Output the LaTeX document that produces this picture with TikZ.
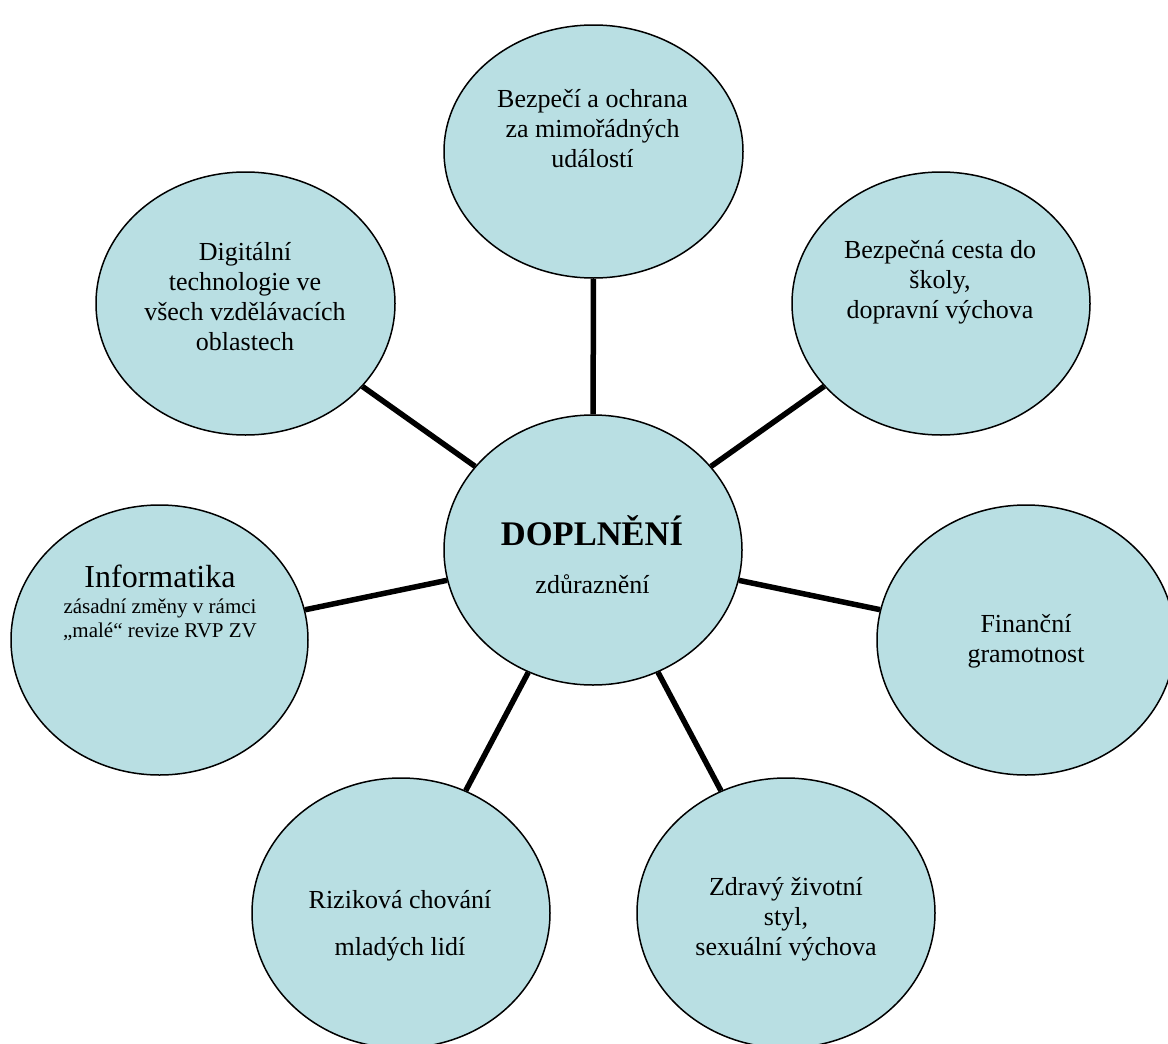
\documentclass[tikz,border=0pt]{standalone}
\usepackage{fontspec}
\setmainfont{Liberation Serif}
\usetikzlibrary{shapes.geometric}
\definecolor{bubblefill}{RGB}{185,223,227}
\newcommand{\mylines}[1]{\begin{tabular}[t]{@{}c@{}}#1\end{tabular}}
\begin{document}
\begin{tikzpicture}[x=1pt,y=-1pt,
  bubble/.style={ellipse, draw=black, line width=1.5pt, fill=bubblefill, inner sep=0pt},
  link/.style={line width=5.5pt, draw=black},
  txt/.style={anchor=base, inner sep=0pt, font=\fontsize{26}{30}\selectfont},
]
\clip (0,0) rectangle (1168,1044);
\fill[white] (0,0) rectangle (1168,1044);

% bubbles
\node[bubble, minimum width=298pt, minimum height=270pt] (c)  at (593,550) {};
\node[bubble, minimum width=299pt, minimum height=253pt] (t)  at (593.5,151.5) {};
\node[bubble, minimum width=299pt, minimum height=263pt] (tl) at (245.5,303.5) {};
\node[bubble, minimum width=298pt, minimum height=263pt] (tr) at (941,303.5) {};
\node[bubble, minimum width=298pt, minimum height=270pt] (r)  at (1026,640) {};
\node[bubble, minimum width=297pt, minimum height=270pt] (l)  at (159.5,640) {};
\node[bubble, minimum width=298pt, minimum height=270pt] (bl) at (401,913) {};
\node[bubble, minimum width=298pt, minimum height=270pt] (br) at (786,913) {};

% connectors
\draw[link] (c) -- (t);
\draw[link] (c) -- (tl);
\draw[link] (c) -- (tr);
\draw[link] (c) -- (r);
\draw[link] (c) -- (l);
\draw[link] (c) -- (bl);
\draw[link] (c) -- (br);

% texts
\node[txt, font=\fontsize{34.5}{40}\selectfont\bfseries] (ct1) at (592,545) {DOPLNĚNÍ};
\node[txt] (ct2) at (592.5,593) {zdůraznění};
\node[txt] (tt) at (592.5,107) {\mylines{Bezpečí a ochrana\\za mimořádných\\událostí}};
\node[txt] (tlt) at (245,260) {\mylines{Digitální\\technologie ve\\všech vzdělávacích\\oblastech}};
\node[txt] (trt) at (940,258) {\mylines{Bezpečná cesta do\\školy,\\dopravní výchova}};
\node[txt] (rt) at (1026,632) {\mylines{Finanční\\gramotnost}};
\node[txt, font=\fontsize{32}{36}\selectfont] (lt1) at (160,587) {Informatika};
\node[txt, font=\fontsize{21}{24}\selectfont] (lt2) at (160,613) {\mylines{zásadní změny v rámci\\„malé“ revize RVP ZV}};
\node[txt] (blt) at (400,908) {\mylines{Riziková chování\\[17pt]mladých lidí}};
\node[txt] (brt) at (786,895) {\mylines{Zdravý životní\\styl,\\sexuální výchova}};
\end{tikzpicture}
\end{document}
